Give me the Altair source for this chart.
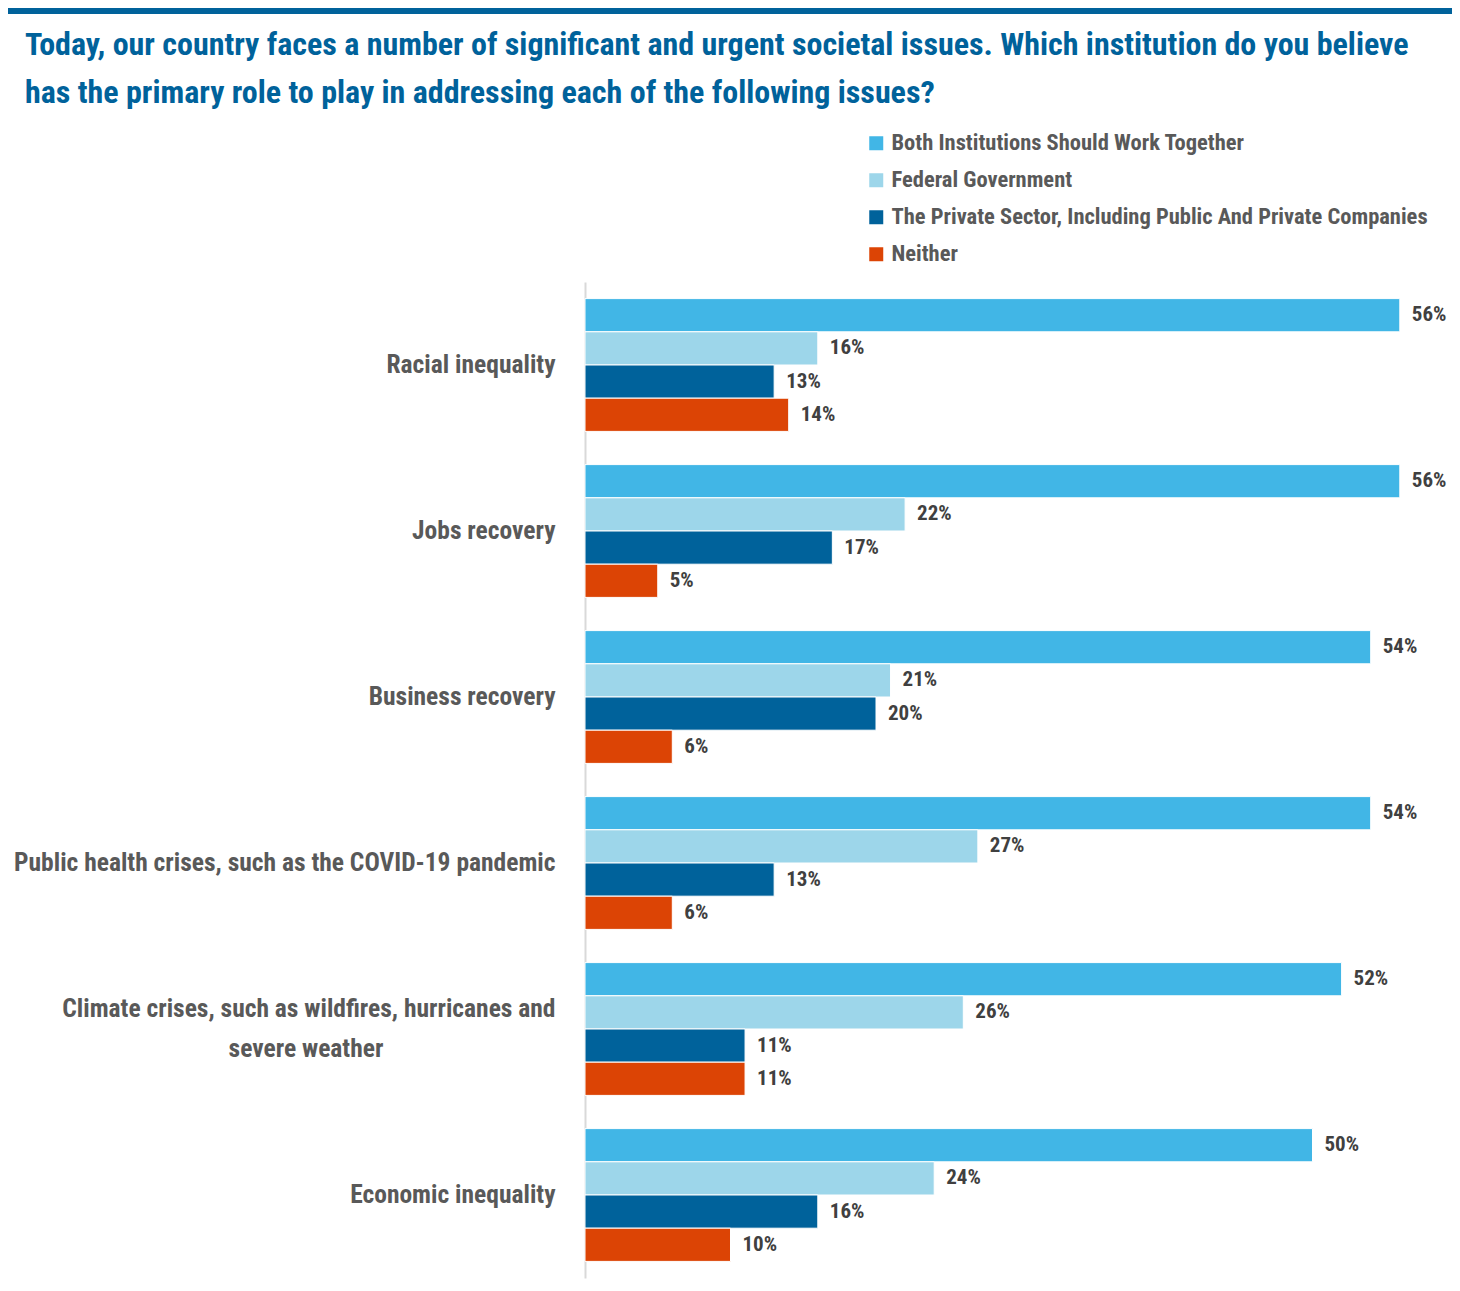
import altair as alt
import pandas as pd

categories = [
    "Racial inequality",
    "Jobs recovery",
    "Business recovery",
    "Public health crises, such as the COVID-19 pandemic",
    "Climate crises, such as wildfires, hurricanes and severe weather",
    "Economic inequality",
]
series = [
    "Both Institutions Should Work Together",
    "Federal Government",
    "The Private Sector, Including Public And Private Companies",
    "Neither",
]
both = [56, 56, 54, 54, 52, 50]
federal = [16, 22, 21, 27, 26, 24]
private = [13, 17, 20, 13, 11, 16]
neither = [14, 5, 6, 6, 11, 10]
colors = ["#41B6E6", "#9DD6EA", "#00629B", "#DC4405"]

CLIMATE = categories[4]
CLIMATE_LINE1 = "Climate crises, such as wildfires, hurricanes and"
CLIMATE_LINE2 = "severe weather"

rows = []
for s, vals in zip(series, [both, federal, private, neither]):
    for c, v in zip(categories, vals):
        rows.append({"category": c, "series": s, "value": v, "label": f"{v}%"})
df = pd.DataFrame(rows)

FONT = "Roboto Condensed, sans-serif"
LABEL_SIZE = 25.5

y_enc = alt.Y(
    "category:N",
    sort=categories,
    scale=alt.Scale(paddingInner=0.2, paddingOuter=0.1),
    axis=alt.Axis(
        title=None,
        ticks=False,
        domainColor="#D9D9D9",
        domainWidth=2,
        labelFont=FONT,
        labelFontWeight="bold",
        labelFontSize=LABEL_SIZE,
        labelColor="#595959",
        labelPadding=30,
        labelLimit=700,
        labelOffset={"condition": {"test": f"datum.label == '{CLIMATE}'", "value": -20}, "value": 0},
        labelExpr=f"datum.label == '{CLIMATE}' ? '{CLIMATE_LINE1}' : datum.label",
    ),
)
x_enc = alt.X("value:Q", scale=alt.Scale(domain=[0, 59.45]), axis=None)
yoff = alt.YOffset("series:N", sort=series)

bars = alt.Chart(df).mark_bar(stroke="white", strokeWidth=1).encode(
    y=y_enc,
    yOffset=yoff,
    x=x_enc,
    color=alt.Color(
        "series:N",
        sort=series,
        scale=alt.Scale(domain=series, range=colors),
        legend=alt.Legend(
            title=None,
            orient="none",
            legendX=280,
            legendY=-150,
            padding=0,
            symbolType="square",
            symbolSize=196,
            symbolStrokeWidth=0,
            labelFont=FONT,
            labelFontWeight="bold",
            labelFontSize=22.5,
            labelColor="#595959",
            labelOffset=4,
            rowPadding=14,
            labelLimit=700,
        ),
    ),
)

labels = alt.Chart(df).mark_text(
    align="left", baseline="middle", dx=12, font=FONT, fontWeight="bold",
    fontSize=21, color="#404040",
).encode(y=y_enc, yOffset=yoff, x=x_enc, text="label:N")

climate_line2 = alt.Chart(pd.DataFrame({"category": [CLIMATE], "text": [CLIMATE_LINE2]})).mark_text(
    align="center", baseline="middle", dy=20, font=FONT, fontWeight="bold",
    fontSize=LABEL_SIZE, color="#595959",
).encode(y=alt.Y("category:N", sort=categories), x=alt.value(-279), text="text:N")

top_rule = alt.Chart(pd.DataFrame({"a": [0]})).mark_rule(
    color="#00629B", strokeWidth=6
).encode(x=alt.value(-577), x2=alt.value(867), y=alt.value(-271))

chart = alt.layer(top_rule, bars, labels, climate_line2).properties(
    width=865,
    height=996,
    autosize=alt.AutoSizeParams(type="none"),
    padding={"left": 577, "top": 274, "right": 2, "bottom": 5},
    title=alt.TitleParams(
        text=[
            "Today, our country faces a number of significant and urgent societal issues. Which institution do you believe",
            "has the primary role to play in addressing each of the following issues?",
        ],
        anchor="start",
        frame="group",
        dx=-560,
        font=FONT,
        fontWeight="bold",
        fontSize=32,
        color="#00629B",
        lineHeight=48,
        offset=-102,
    ),
).configure_view(stroke=None)

chart.save("out.html", embed_options={"renderer": "svg", "actions": False})
